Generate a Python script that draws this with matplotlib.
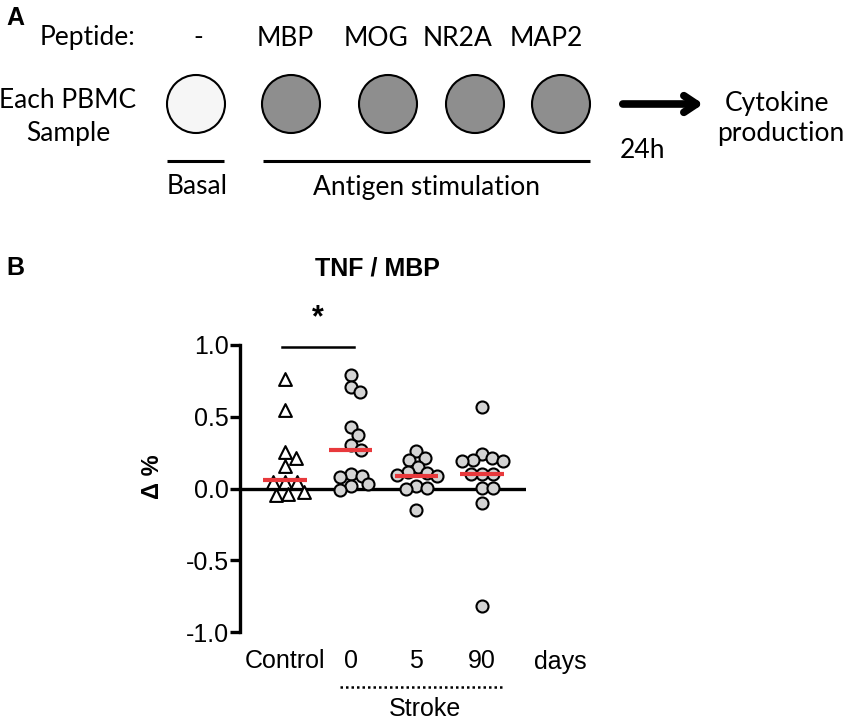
import numpy as np
import matplotlib.pyplot as plt
from matplotlib.patches import Circle

# Panel A: peptides used for stimulation
peptides = ['-', 'MBP', 'MOG', 'NR2A', 'MAP2']

# Panel B: TNF response to MBP (delta %)
groups = ['Control', '0', '5', '90']
control = [0.76, 0.545, 0.254, 0.215, 0.154, 0.044, 0.044, 0.044, -0.026, -0.037, -0.042]
stroke_d0 = [0.79, 0.71, 0.67, 0.43, 0.37, 0.30, 0.27, 0.098, 0.09, 0.08, 0.028, 0.014, -0.01]
stroke_d5 = [0.26, 0.21, 0.20, 0.15, 0.115, 0.105, 0.095, 0.085, 0.02, 0.005, 0.0, -0.15]
stroke_d90 = [0.57, 0.24, 0.21, 0.20, 0.19, 0.19, 0.10, 0.098, 0.098, 0.005, 0.005, -0.10, -0.82]
medians = [0.06, 0.27, 0.09, 0.10]
yticks = [1.0, 0.5, 0.0, -0.5, -1.0]

RED = '#e8393c'
GREY_FILL = '#d4d4d4'


def swarm_offsets(vals, d_px, sx, sy):
    # simple beeswarm: put each point as close to the centre as it can go
    placed = []
    out = []
    for v in vals:
        y = v * sy
        cands = [0.0]
        for px, py in placed:
            dy = abs(y - py)
            if dy < d_px:
                dx = np.sqrt(d_px ** 2 - dy ** 2)
                cands += [px + dx, px - dx]
        cands.sort(key=abs)
        best = cands[-1]
        for c in cands:
            if all((c - px) ** 2 + (y - py) ** 2 >= d_px ** 2 - 1e-6 for px, py in placed):
                best = c
                break
        placed.append((best, y))
        out.append(best / sx)
    return np.array(out)


fig = plt.figure(figsize=(8.5, 7.22), dpi=100)

# background axes in pixel coordinates for panel A and loose labels
bg = fig.add_axes([0, 0, 1, 1])
bg.set_xlim(0, 850)
bg.set_ylim(722, 0)
bg.axis('off')

fa = 'Lato'
fb = 'Liberation Sans'
fsa = 19

bg.text(6, 18, 'A', fontsize=18, fontweight='bold', family=fb, va='center')
bg.text(6, 268, 'B', fontsize=18, fontweight='bold', family=fb, va='center')

bg.text(40, 38, 'Peptide:', fontsize=fsa, family=fa, va='center')
circle_x = [196, 291, 388, 475, 561]
label_x = [198, 285, 376, 458, 546]
for i, p in enumerate(peptides):
    bg.text(label_x[i], 38, p, fontsize=fsa, family=fa, ha='center', va='center')
    face = '#f6f6f6' if i == 0 else '#8e8e8e'
    bg.add_patch(Circle((circle_x[i], 104), 29, facecolor=face, edgecolor='black', lw=1.5))

bg.text(68, 100, 'Each PBMC', fontsize=fsa, family=fa, ha='center', va='center')
bg.text(68, 133, 'Sample', fontsize=fsa, family=fa, ha='center', va='center')

bg.plot([167, 224], [161, 161], color='black', lw=2.2, solid_capstyle='butt')
bg.plot([263, 590], [161, 161], color='black', lw=2.2, solid_capstyle='butt')
bg.text(197, 187, 'Basal', fontsize=fsa, family=fa, ha='center', va='center')
bg.text(427, 187, 'Antigen stimulation', fontsize=fsa, family=fa, ha='center', va='center')

bg.annotate('', xy=(706, 104), xytext=(620, 104),
            arrowprops=dict(arrowstyle='->,head_length=0.9,head_width=0.6', lw=5.5, color='black'))
bg.text(643, 150, '24h', fontsize=fsa, family=fa, ha='center', va='center')
bg.text(777, 103, 'Cytokine', fontsize=fsa, family=fa, ha='center', va='center')
bg.text(781, 134, 'production', fontsize=fsa, family=fa, ha='center', va='center')

# Panel B
ax = fig.add_axes([240 / 850, 90 / 722, 286 / 850, 287 / 722])
ax.set_xlim(-0.685, 3.67)
ax.set_ylim(-1.0, 1.0)
sx = 286 / (3.67 + 0.685)
sy = 287 / 2.0

ax.axhline(0, color='black', lw=2.4, zorder=1)

series = [control, stroke_d0, stroke_d5, stroke_d90]
for i, vals in enumerate(series):
    vals = np.array(vals)
    if i == 0:
        offs = swarm_offsets(vals, 12.0, sx, sy)
        ax.scatter(i + offs, vals, marker='^', s=85, facecolor='white',
                   edgecolor='black', linewidth=1.5, zorder=3, clip_on=False)
    else:
        offs = swarm_offsets(vals, 11.0, sx, sy)
        ax.scatter(i + offs, vals, marker='o', s=75, facecolor=GREY_FILL,
                   edgecolor='black', linewidth=1.5, zorder=3, clip_on=False)
    ax.plot([i - 0.33, i + 0.33], [medians[i], medians[i]], color=RED, lw=3,
            solid_capstyle='butt', zorder=4)

for s in ['top', 'right', 'bottom']:
    ax.spines[s].set_visible(False)
ax.spines['left'].set_linewidth(2.4)
ax.set_yticks(yticks)
ax.set_yticklabels(['%.1f' % t for t in yticks], family=fb)
ax.tick_params(axis='y', length=7, width=2.4, labelsize=18, pad=1)
ax.set_xticks(range(len(groups)))
ax.set_xticklabels(groups, family=fb)
ax.tick_params(axis='x', length=0, labelsize=18, pad=12)
ax.patch.set_alpha(0)

# significance bar between control and stroke day 0
bg.plot([282, 354], [346.5, 346.5], color='black', lw=1.8)
bg.text(318, 318, '*', fontsize=22, fontweight='bold', family=fb, ha='center', va='center')

bg.text(377, 268, 'TNF / MBP', fontsize=18, fontweight='bold', family=fb, ha='center', va='center')
bg.text(153, 477, 'Δ %', fontsize=17, fontweight='bold', family=fb, ha='center', va='center',
        rotation=90)
bg.text(560, 662, 'days', fontsize=18, family=fb, ha='center', va='center')
bg.plot([340, 503], [687, 687], color='black', lw=1.8, linestyle=(0, (1, 1.2)))
bg.text(425, 709, 'Stroke', fontsize=18, family=fb, ha='center', va='center')

fig.savefig('out.png', dpi=100)
